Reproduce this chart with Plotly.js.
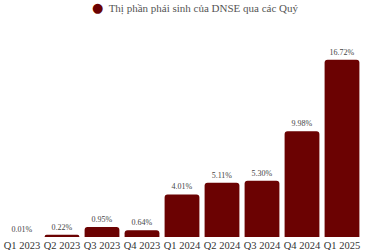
<!DOCTYPE html>
<html>
<head>
<meta charset="utf-8">
<script src="https://cdn.plot.ly/plotly-3.0.1.min.js"></script>
<style>html,body{margin:0;padding:0;background:#fff;}#chart{width:375px;height:250px;}</style>
</head>
<body>
<div id="chart"></div>
<script>
const quarters = ["Q1 2023","Q2 2023","Q3 2023","Q4 2023","Q1 2024","Q2 2024","Q3 2024","Q4 2024","Q1 2025"];
const shares = [0.01, 0.22, 0.95, 0.64, 4.01, 5.11, 5.30, 9.98, 16.72];
const seriesName = "Thị phần phái sinh của DNSE qua các Quý";
const barColor = "#6b0202";

const trace = {
  type: "bar",
  x: quarters,
  y: shares,
  name: seriesName,
  showlegend: false,
  marker: {color: barColor, cornerradius: 3},
  text: shares.map(v => v.toFixed(2) + "%"),
  textposition: "outside",
  cliponaxis: false,
  textfont: {family: "Liberation Serif", size: 8, color: "#444"},
  hoverinfo: "none"
};

const layout = {
  width: 375, height: 250,
  margin: {l: 2, r: 13, t: 52, b: 13},
  paper_bgcolor: "#fff", plot_bgcolor: "#fff",
  bargap: 0.13,
  font: {family: "Liberation Serif", color: "#333"},
  showlegend: false,
  annotations: [{
    xref: "paper", yref: "paper", x: 0.245, xanchor: "left",
    y: 1.24, yanchor: "middle", showarrow: false,
    text: '<span style="color:' + barColor + ';font-size:13px;font-family:DejaVu Sans">●</span>  ' + seriesName,
    font: {family: "Liberation Serif", size: 11, color: "#555"}
  }],
  xaxis: {showgrid: false, zeroline: false, showline: false, ticks: "", tickangle: 0,
          automargin: false, type: "category",
          tickfont: {family: "Liberation Serif", size: 10.5, color: "#333"}},
  yaxis: {visible: false, range: [0, 17.45], showgrid: false, zeroline: false, automargin: false}
};

Plotly.newPlot("chart", [trace], layout, {displayModeBar: false, staticPlot: true});
</script>
</body>
</html>
